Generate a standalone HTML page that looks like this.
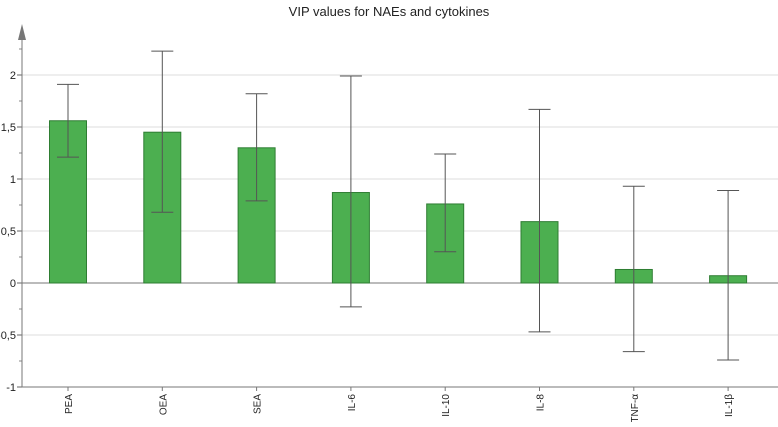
<!DOCTYPE html>
<html><head><meta charset="utf-8"><style>
body{margin:0;background:#fff;font-family:"Liberation Sans",sans-serif}
</style></head><body>
<svg id="c" width="778" height="422" xmlns="http://www.w3.org/2000/svg"></svg>
<script>
const categories=["PEA","OEA","SEA","IL-6","IL-10","IL-8","TNF-α","IL-1β"];
const values=[1.56,1.45,1.30,0.87,0.76,0.59,0.13,0.07];
const errHigh=[1.91,2.23,1.82,1.99,1.24,1.67,0.93,0.89];
const errLow=[1.21,0.68,0.79,-0.23,0.30,-0.47,-0.66,-0.74];
const yTicks=[-1,-0.5,0,0.5,1,1.5,2];
const yTickLabels=["-1","-0,5","0","0,5","1","1,5","2"];
const NS="http://www.w3.org/2000/svg";
const svg=document.getElementById('c');
const y=v=>283-v*104;
const x=i=>68+i*94.3;
function mk(t,a){const e=document.createElementNS(NS,t);for(const k in a)e.setAttribute(k,a[k]);svg.appendChild(e);return e;}
let t=mk('text',{x:389,y:16,'text-anchor':'middle','font-size':13,fill:'#222'});t.textContent="VIP values for NAEs and cytokines";

yTicks.forEach((v,i)=>{
 if(v!==0&&v!==-1){let g=mk('line',{x1:22,x2:778,y1:y(v),y2:y(v),stroke:'#ddd'});}
 let l=mk('text',{x:16,y:y(v)+4,'text-anchor':'end','font-size':11,fill:'#222'});l.textContent=yTickLabels[i];
 
 mk('line',{x1:17,x2:22,y1:y(v),y2:y(v),stroke:'#666'});
});
for(let v=-0.75;v<2.3;v+=0.5){mk('line',{x1:19,x2:22,y1:y(v),y2:y(v),stroke:'#888'});}
let z=mk('line',{x1:22,x2:778,y1:y(0),y2:y(0),stroke:'#777'});
let ya=mk('line',{x1:22,x2:22,y1:30,y2:387,stroke:'#777'});
let ar=mk('polygon',{points:'18,40 22,24 26,40',fill:'#777'});
let xa=mk('line',{x1:22,x2:778,y1:387,y2:387,stroke:'#777'});
categories.forEach((c,i)=>{
 const cx=x(i),top=Math.min(y(values[i]),y(0)),h=Math.abs(y(values[i])-y(0));
 let b=mk('rect',{x:cx-18.5,y:top,width:37,height:h,fill:'#4caf50',stroke:'#2e7d32','stroke-width':1});
 
 let e=mk('path',{d:`M${cx} ${y(errHigh[i])}V${y(errLow[i])}M${cx-11} ${y(errHigh[i])}h22M${cx-11} ${y(errLow[i])}h22`,stroke:'#555',fill:'none','stroke-width':1});
 
 mk('line',{x1:cx,x2:cx,y1:387,y2:391,stroke:'#777'});
 let l=mk('text',{x:0,y:0,'text-anchor':'end','font-size':10,fill:'#222',transform:`translate(${cx+4},394) rotate(-90)`});l.textContent=c;
 
});
</script>
</body></html>
